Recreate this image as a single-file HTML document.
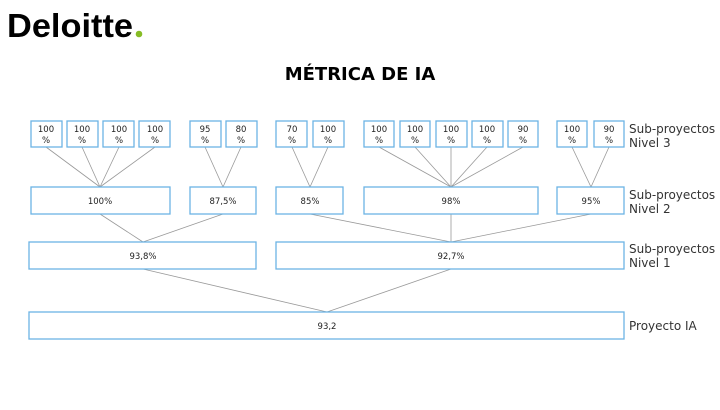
<!DOCTYPE html>
<html><head><meta charset="utf-8"><style>
body{margin:0;background:#fff;width:720px;height:405px;overflow:hidden}
svg text{font-family:"DejaVu Sans","Liberation Sans",sans-serif}
</style></head><body>
<svg width="720" height="405" viewBox="0 0 720 405" xmlns="http://www.w3.org/2000/svg">
<text x="7" y="37" font-weight="bold" font-size="33" fill="#000" textLength="126" lengthAdjust="spacingAndGlyphs" style="font-family:'Liberation Sans',sans-serif">Deloitte</text>
<circle cx="139" cy="34" r="3.3" fill="#86bc25"/>
<text x="360" y="80" text-anchor="middle" font-weight="bold" font-size="18" style="font-family:'DejaVu Sans',sans-serif">MÉTRICA DE IA</text>
<g stroke="#999" stroke-width="0.8" fill="none">
<line x1="46" y1="147" x2="100" y2="187"/><line x1="82" y1="147" x2="100" y2="187"/><line x1="119" y1="147" x2="100" y2="187"/><line x1="155" y1="147" x2="100" y2="187"/>
<line x1="205" y1="147" x2="223" y2="187"/><line x1="241" y1="147" x2="223" y2="187"/>
<line x1="292" y1="147" x2="310" y2="187"/><line x1="328" y1="147" x2="310" y2="187"/>
<line x1="379" y1="147" x2="451" y2="187"/><line x1="415" y1="147" x2="451" y2="187"/><line x1="451" y1="147" x2="451" y2="187"/><line x1="487" y1="147" x2="451" y2="187"/><line x1="523" y1="147" x2="451" y2="187"/>
<line x1="572" y1="147" x2="591" y2="187"/><line x1="609" y1="147" x2="591" y2="187"/>
<line x1="100" y1="214" x2="143" y2="242"/><line x1="223" y1="214" x2="143" y2="242"/>
<line x1="310" y1="214" x2="451" y2="242"/><line x1="451" y1="214" x2="451" y2="242"/><line x1="591" y1="214" x2="451" y2="242"/>
<line x1="143" y1="269" x2="327" y2="312"/><line x1="451" y1="269" x2="327" y2="312"/>
</g>
<g stroke="#6cb4e4" stroke-width="1.3" fill="#fff">
<rect x="31" y="121" width="31" height="26"/><rect x="67" y="121" width="31" height="26"/><rect x="103" y="121" width="31" height="26"/><rect x="139" y="121" width="31" height="26"/>
<rect x="190" y="121" width="31" height="26"/><rect x="226" y="121" width="31" height="26"/>
<rect x="276" y="121" width="31" height="26"/><rect x="313" y="121" width="31" height="26"/>
<rect x="364" y="121" width="30" height="26"/><rect x="400" y="121" width="30" height="26"/><rect x="436" y="121" width="31" height="26"/><rect x="472" y="121" width="31" height="26"/><rect x="508" y="121" width="30" height="26"/>
<rect x="557" y="121" width="30" height="26"/><rect x="594" y="121" width="30" height="26"/>
<rect x="31" y="187" width="139" height="27"/><rect x="190" y="187" width="66" height="27"/><rect x="276" y="187" width="67" height="27"/><rect x="364" y="187" width="174" height="27"/><rect x="557" y="187" width="67" height="27"/>
<rect x="29" y="242" width="227" height="27"/><rect x="276" y="242" width="348" height="27"/>
<rect x="29" y="312" width="595" height="27"/>
</g>
<g font-size="8.5" fill="#222" text-anchor="middle">
<text x="46" y="132">100</text><text x="46" y="143">%</text>
<text x="82" y="132">100</text><text x="82" y="143">%</text>
<text x="119" y="132">100</text><text x="119" y="143">%</text>
<text x="155" y="132">100</text><text x="155" y="143">%</text>
<text x="205" y="132">95</text><text x="205" y="143">%</text>
<text x="241" y="132">80</text><text x="241" y="143">%</text>
<text x="292" y="132">70</text><text x="292" y="143">%</text>
<text x="328" y="132">100</text><text x="328" y="143">%</text>
<text x="379" y="132">100</text><text x="379" y="143">%</text>
<text x="415" y="132">100</text><text x="415" y="143">%</text>
<text x="451" y="132">100</text><text x="451" y="143">%</text>
<text x="487" y="132">100</text><text x="487" y="143">%</text>
<text x="523" y="132">90</text><text x="523" y="143">%</text>
<text x="572" y="132">100</text><text x="572" y="143">%</text>
<text x="609" y="132">90</text><text x="609" y="143">%</text>
<text x="100" y="204">100%</text><text x="223" y="204">87,5%</text><text x="310" y="204">85%</text><text x="451" y="204">98%</text><text x="591" y="204">95%</text>
<text x="143" y="259">93,8%</text><text x="451" y="259">92,7%</text>
<text x="327" y="329">93,2</text>
</g>
<g font-size="12" fill="#333">
<text x="629" y="133">Sub-proyectos</text><text x="629" y="147">Nivel 3</text>
<text x="629" y="199">Sub-proyectos</text><text x="629" y="213">Nivel 2</text>
<text x="629" y="253">Sub-proyectos</text><text x="629" y="267">Nivel 1</text>
<text x="629" y="330">Proyecto IA</text>
</g>
</svg>
</body></html>
